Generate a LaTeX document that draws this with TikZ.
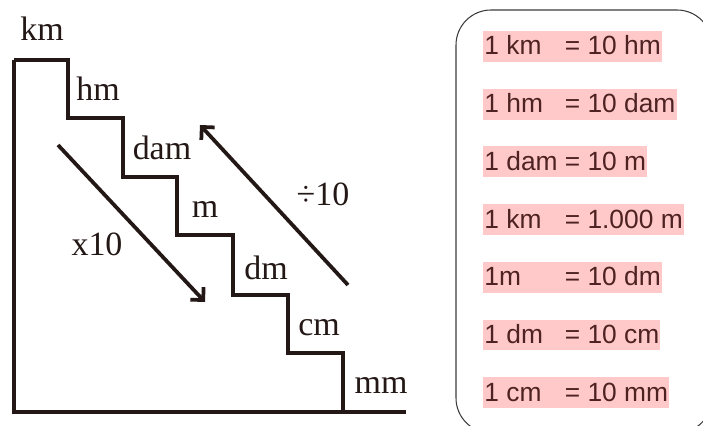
\documentclass[tikz,border=0pt]{standalone}
\usepackage{fontspec}
\setmainfont{Liberation Serif}
\newfontfamily\boxfont{Liberation Sans}
\usetikzlibrary{arrows.meta, positioning, calc}
\definecolor{inkblk}{HTML}{231815}
\definecolor{hlpink}{HTML}{FFC9C9}
\definecolor{eqred}{HTML}{4E2222}
\definecolor{framegray}{HTML}{3C3C3C}

\tikzset{
  unitlbl/.style={inner sep=0pt, text=inkblk, font=\fontsize{29}{32}\selectfont},
  stairline/.style={draw=inkblk, line width=3.2pt, line join=miter},
  convarrow/.style={inkblk, line width=3.2pt, -{Straight Barb[angle=90:11pt, line join=miter, line cap=butt]}},
  eqrow/.style={anchor=west, fill=hlpink, text=eqred, inner xsep=1pt, inner ysep=1pt,
    text height=19.4pt, text depth=5pt, font=\boxfont\fontsize{22.5}{24}\selectfont},
}
\newcommand{\lhs}[1]{\makebox[3.05em][l]{#1}}

\begin{document}
\begin{tikzpicture}[x=0.03cm, y=-0.03cm]
  \useasboundingbox (0,0) rectangle (703,426);

  % staircase
  \draw[stairline] (14,60) -- (68,60) -- (68,118) -- (123,118) -- (123,177)
    -- (177,177) -- (177,235) -- (233,235) -- (233,295) -- (288,295)
    -- (288,353) -- (343,353) -- (343,412);
  \draw[stairline] (14,60) -- (14,412) -- (406,412);

  % unit labels
  \node[unitlbl] (km) at (42,29) {km};
  \node[unitlbl] (hm) at (98,89) {hm};
  \node[unitlbl] (dam) at (162,148) {dam};
  \node[unitlbl] (m) at (205,209) {m};
  \node[unitlbl] (dm) at (266,268) {dm};
  \node[unitlbl] (cm) at (319,328) {cm};
  \node[unitlbl] (mm) at (381,385) {mm};

  % arrows
  \coordinate (mulfrom) at (58,145);
  \coordinate (multo) at (205,302);
  \coordinate (divfrom) at (348,285);
  \coordinate (divto) at (200,125);
  \draw[convarrow] (mulfrom) -- (multo);
  \draw[convarrow] (divfrom) -- (divto);
  \node[unitlbl] (times) at (97,244) {x10};
  \node[unitlbl] (div) at (323,194) {÷10};

  % table of equalities
  \draw[framegray, line width=0.9pt, rounded corners=1.05cm] (456,10) rectangle (712,433);
  \node[eqrow] (eq1) at (483,46.5) {\lhs{1 km}= 10 hm};
  \node[eqrow] (eq2) at (483,104.2) {\lhs{1 hm}= 10 dam};
  \node[eqrow] (eq3) at (483,161.9) {\lhs{1 dam}= 10 m};
  \node[eqrow] (eq4) at (483,219.6) {\lhs{1 km}= 1.000 m};
  \node[eqrow] (eq5) at (483,277.3) {\lhs{1m}= 10 dm};
  \node[eqrow] (eq6) at (483,335) {\lhs{1 dm}= 10 cm};
  \node[eqrow] (eq7) at (483,392.7) {\lhs{1 cm}= 10 mm};
\end{tikzpicture}
\end{document}
